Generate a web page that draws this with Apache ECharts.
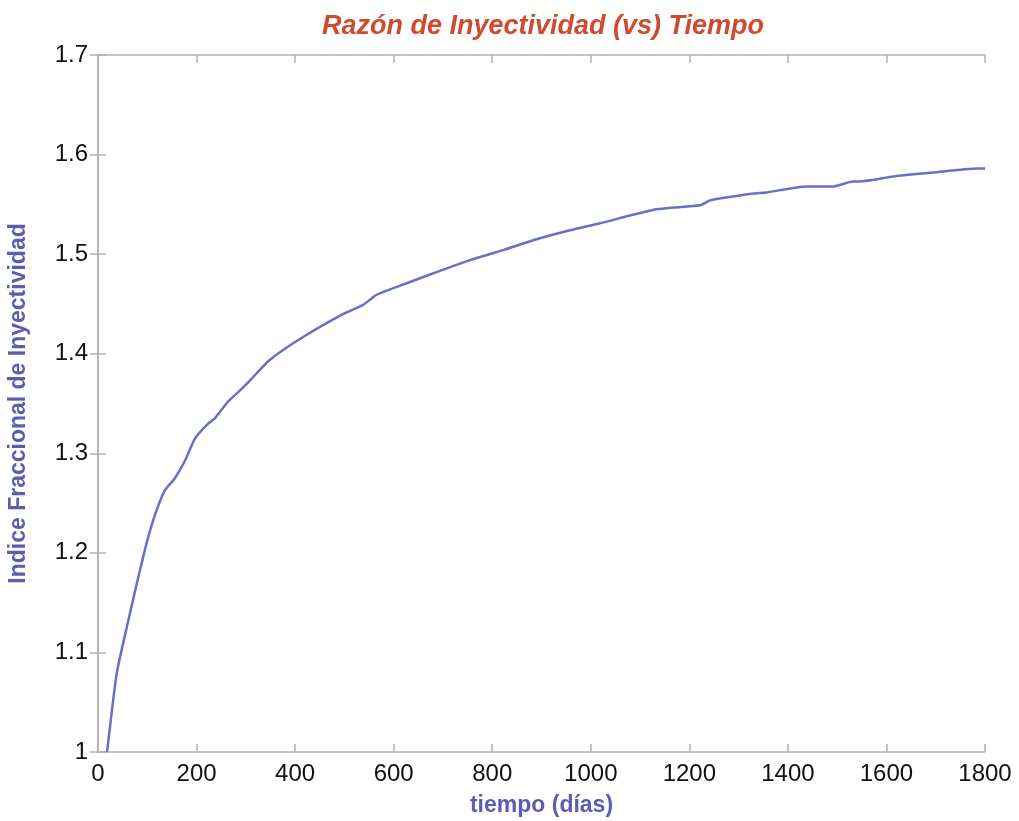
<!DOCTYPE html>
<html>
<head>
<meta charset="utf-8">
<script src="https://cdn.jsdelivr.net/npm/echarts@6/dist/echarts.min.js"></script>
<style>html,body{margin:0;padding:0;background:#fff}#c{width:1019px;height:821px}</style>
</head>
<body>
<div id="c"></div>
<script>
const days = [18, 20, 38, 62, 82, 102, 119, 136, 156, 177, 197, 224, 237, 264, 292, 310, 349, 417, 498, 538, 565, 633, 687, 755, 822, 890, 958, 1019, 1133, 1222, 1242, 1289, 1330, 1357, 1438, 1478, 1492, 1532, 1546, 1614, 1695, 1783, 1800];
const values = [1.0, 1.007, 1.079, 1.133, 1.176, 1.216, 1.243, 1.263, 1.275, 1.293, 1.315, 1.330, 1.335, 1.352, 1.365, 1.374, 1.394, 1.417, 1.440, 1.449, 1.459, 1.472, 1.482, 1.494, 1.504, 1.515, 1.524, 1.531, 1.545, 1.549, 1.554, 1.558, 1.561, 1.562, 1.568, 1.568, 1.568, 1.573, 1.573, 1.578, 1.582, 1.586, 1.586];
const xTicks = [0, 200, 400, 600, 800, 1000, 1200, 1400, 1600, 1800];
const yTicks = [1, 1.1, 1.2, 1.3, 1.4, 1.5, 1.6, 1.7];

const frameColor = '#b5aeb5';
const font = 'Liberation Sans, Arial, sans-serif';
const chart = echarts.init(document.getElementById('c'));
const axisCommon = {
  axisLine: { show: true, lineStyle: { color: frameColor, width: 1.5 } },
  axisTick: { show: true, inside: true, length: 8, lineStyle: { color: frameColor, width: 1.5 } },
  splitLine: { show: false }
};
chart.setOption({
  backgroundColor: '#fff',
  animation: false,
  title: {
    text: 'Razón de Inyectividad (vs) Tiempo',
    left: 538, top: 8, textAlign: 'center',
    textStyle: { color: '#d04a30', fontSize: 27, fontStyle: 'italic', fontWeight: 'bold', fontFamily: font }
  },
  grid: { left: 98, right: 34, top: 55, bottom: 69, containLabel: false, outerBoundsMode: 'none' },
  xAxis: [{
    type: 'value', min: xTicks[0], max: xTicks[xTicks.length - 1], interval: 200,
    position: 'bottom',
    name: 'tiempo (días)', nameLocation: 'middle', nameGap: 42,
    nameTextStyle: { color: '#5c5cb0', fontSize: 23, fontWeight: 'bold', fontFamily: font },
    axisLabel: { color: '#111', fontSize: 24, margin: 10, fontFamily: font, formatter: v => String(v) },
    ...axisCommon
  }, {
    type: 'value', min: xTicks[0], max: xTicks[xTicks.length - 1], interval: 200,
    position: 'top', axisLabel: { show: false }, ...axisCommon
  }],
  yAxis: [{
    type: 'value', min: yTicks[0], max: yTicks[yTicks.length - 1], interval: 0.1,
    position: 'left',
    name: 'Indice Fraccional de Inyectividad', nameLocation: 'middle', nameGap: 68,
    nameTextStyle: { color: '#5c5cb0', fontSize: 23, fontWeight: 'bold', fontFamily: font },
    axisLabel: { color: '#111', fontSize: 24, margin: 10, fontFamily: font, formatter: v => String(Math.round(v * 10) / 10) },
    ...axisCommon
  }, {
    type: 'value', min: yTicks[0], max: yTicks[yTicks.length - 1], interval: 0.1,
    position: 'right', axisLabel: { show: false }, ...axisCommon
  }],
  series: [{
    type: 'line',
    data: days.map((d, i) => [d, values[i]]),
    showSymbol: false,
    smooth: 0.2,
    lineStyle: { color: '#6a6fc6', width: 2.5 },
    xAxisIndex: 0, yAxisIndex: 0
  }]
});
</script>
</body>
</html>
